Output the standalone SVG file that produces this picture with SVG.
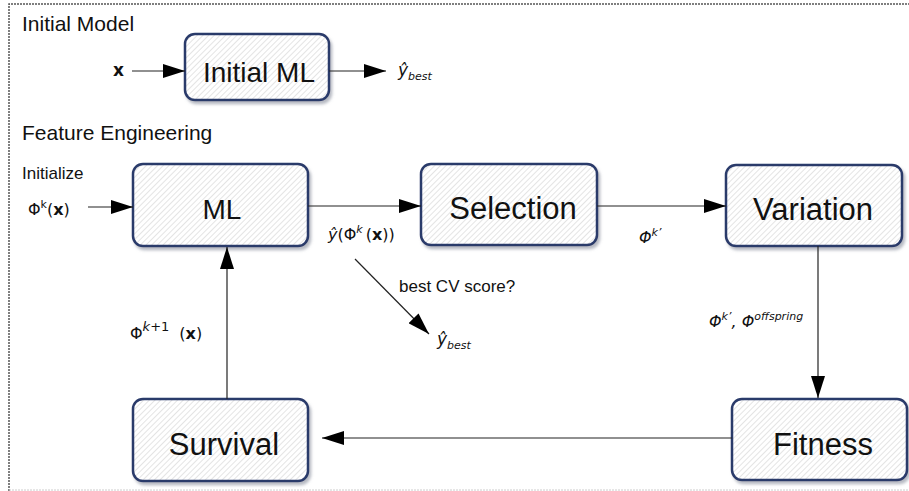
<svg xmlns="http://www.w3.org/2000/svg" width="909" height="491" viewBox="0 0 909 491">
  <style>
    text { font-family: "Liberation Sans", Arial, sans-serif; fill: #111; }
    .box { fill: url(#hatch); stroke: #2b3a6b; stroke-width: 2.5; filter: url(#shadow); }
    .node-label { font-size: 31px; text-anchor: middle; }
    .heading { font-size: 21px; }
    .small { font-size: 17px; }
    .math { font-family: "DejaVu Sans", "Liberation Sans", sans-serif; font-size: 16px; }
    .sub { font-size: 11px; font-style: italic; }
    .sup { font-size: 11px; }
    .edge { stroke: #222; stroke-width: 1.2; fill: none; marker-end: url(#arrow); }
    .frame { stroke: #555; stroke-width: 1.5; stroke-dasharray: 2 1; fill: none; }
  </style>
  <defs>
    <pattern id="hatch" patternUnits="userSpaceOnUse" width="4" height="4" patternTransform="rotate(45)">
      <rect width="4" height="4" fill="#ffffff"/>
      <line x1="0" y1="0" x2="0" y2="4" stroke="#d2d2d2" stroke-width="1.2"/>
    </pattern>
    <filter id="shadow" x="-10%" y="-10%" width="125%" height="130%">
      <feDropShadow dx="2" dy="3" stdDeviation="1.5" flood-color="#7a7f90" flood-opacity="0.55"/>
    </filter>
    <marker id="arrow" markerUnits="userSpaceOnUse" markerWidth="22" markerHeight="14" refX="22" refY="7" orient="auto">
      <path d="M0,0 L22,7 L0,14 z" fill="#000"/>
    </marker>
  </defs>

  <!-- dotted frame around the panel -->
  <path class="frame" d="M9,491 L9,4 L909,4"/>
  <line x1="9" y1="490" x2="909" y2="490" stroke="#ccc" stroke-width="1" stroke-dasharray="2 1"/>

  <!-- section headings -->
  <text class="heading" x="22" y="31">Initial Model</text>
  <text class="heading" x="22" y="140">Feature Engineering</text>

  <!-- nodes -->
  <g id="initial-ml">
    <rect class="box" x="185" y="34" width="144" height="66" rx="10"/>
    <text x="259" y="82" style="font-size:28px" text-anchor="middle">Initial ML</text>
  </g>
  <g id="ml">
    <rect class="box" x="133" y="164" width="175" height="82" rx="10"/>
    <text x="222" y="219" style="font-size:28px" text-anchor="middle">ML</text>
  </g>
  <g id="selection">
    <rect class="box" x="421" y="164" width="176" height="81" rx="10"/>
    <text class="node-label" x="513" y="219">Selection</text>
  </g>
  <g id="variation">
    <rect class="box" x="726" y="165" width="176" height="81" rx="10"/>
    <text class="node-label" x="813" y="220">Variation</text>
  </g>
  <g id="fitness">
    <rect class="box" x="732" y="399" width="175" height="81" rx="10"/>
    <text class="node-label" x="823" y="455">Fitness</text>
  </g>
  <g id="survival">
    <rect class="box" x="133" y="399" width="175" height="82" rx="10"/>
    <text class="node-label" x="224" y="455">Survival</text>
  </g>

  <!-- connectors -->
  <g id="connectors">
    <line class="edge" x1="132" y1="71" x2="185" y2="71"/>
    <line class="edge" x1="329" y1="71" x2="386" y2="71"/>
    <line class="edge" x1="88" y1="207" x2="133" y2="207"/>
    <line class="edge" x1="308" y1="206" x2="421" y2="206"/>
    <line class="edge" x1="597" y1="206" x2="726" y2="206"/>
    <line class="edge" x1="818" y1="246" x2="818" y2="398"/>
    <line class="edge" x1="732" y1="438" x2="322" y2="438"/>
    <line class="edge" x1="227" y1="399" x2="227" y2="247"/>
    <line class="edge" x1="355" y1="259" x2="429" y2="334"/>
  </g>

  <!-- edge labels -->
  <text class="math" x="113" y="76" font-weight="bold" style="font-size:17px">x</text>
  <text class="math" x="398" y="76" style="font-size:17px"><tspan font-style="italic">ŷ</tspan><tspan class="sub" dy="4">best</tspan></text>

  <text class="small" x="22" y="179">Initialize</text>
  <text class="math" x="28" y="215">Φ<tspan class="sup" dy="-7">k</tspan><tspan dy="7">(</tspan><tspan font-weight="bold">x</tspan>)</text>

  <text class="math" x="328" y="240"><tspan font-style="italic">ŷ</tspan>(Φ<tspan class="sup" font-style="italic" dy="-7">k</tspan><tspan dy="7" dx="3">(</tspan><tspan font-weight="bold">x</tspan>))</text>

  <text class="small" x="399" y="292">best CV score?</text>
  <text class="math" x="437" y="345" style="font-size:17px"><tspan font-style="italic">ŷ</tspan><tspan class="sub" dy="4">best</tspan></text>

  <text class="math" x="639" y="243" font-style="italic">Φ<tspan class="sup" dy="-7">k’</tspan></text>

  <text class="math" x="709" y="327" font-style="italic">Φ<tspan class="sup" dy="-7">k’</tspan><tspan dy="7">, Φ</tspan><tspan class="sup" dy="-7">offspring</tspan></text>

  <text class="math" x="130" y="339">Φ<tspan class="sup" style="font-size:13px" dy="-8"><tspan font-style="italic">k</tspan>+1</tspan><tspan dy="8" dx="10">(</tspan><tspan font-weight="bold">x</tspan>)</text>
</svg>
